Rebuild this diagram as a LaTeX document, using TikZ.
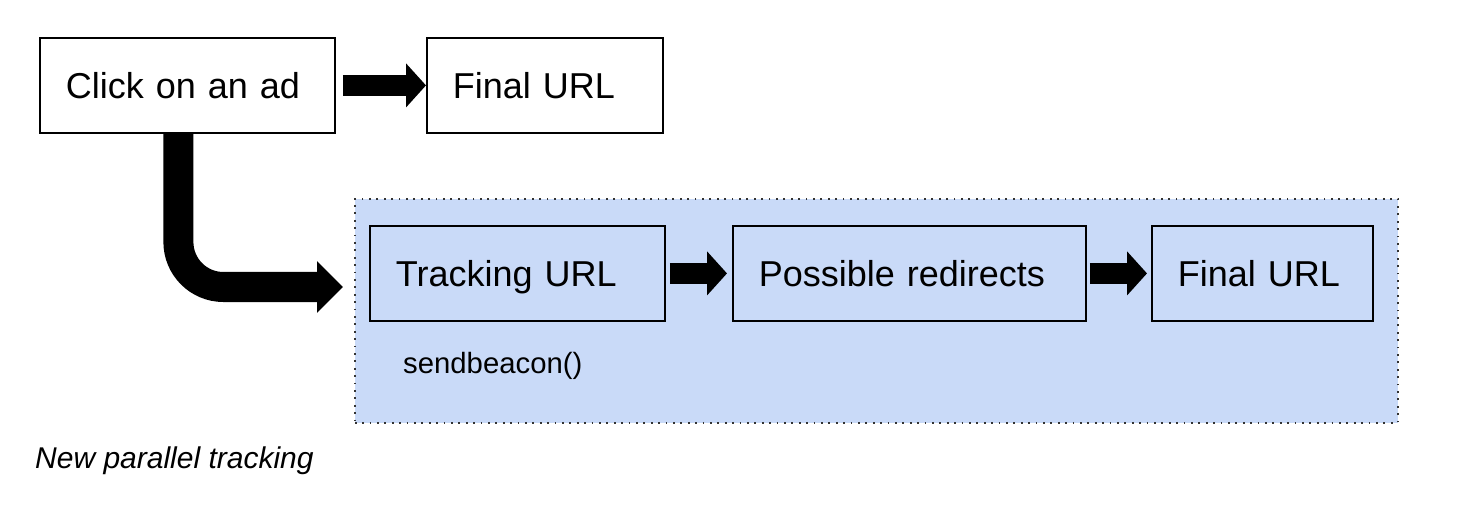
\documentclass[tikz,border=0pt]{standalone}
\usepackage{fontspec}
\setmainfont{Liberation Sans}
\usetikzlibrary{arrows.meta}
\definecolor{panelblue}{HTML}{C9DAF8}
\definecolor{dotgray}{HTML}{333333}
\begin{document}
\begin{tikzpicture}[x=1bp,y=-1bp,
  box/.style={draw=black, line width=1.8bp, rectangle, inner xsep=26bp, inner ysep=0pt,
    align=left, text height=26bp, text depth=0bp, minimum height=95bp,
    font=\fontsize{36bp}{40bp}\selectfont, anchor=north west},
  panel/.style={draw=dotgray, fill=panelblue, line width=1.6bp, dash pattern=on 1.8bp off 5.6bp,
    rectangle, anchor=north west, inner sep=0pt},
  fat/.style={line width=21bp, -{Triangle[length=20bp,width=43bp]}},
  fatbend/.style={line width=30bp, rounded corners=45bp, -{Triangle[length=26bp,width=50bp]}},
  smalltext/.style={font=\fontsize{29.3bp}{33bp}\selectfont, inner sep=0pt, anchor=base west},
  caption/.style={font=\fontsize{30bp}{34bp}\selectfont\itshape, inner sep=0pt, anchor=base west},
]
\useasboundingbox (0,0) rectangle (1464,510);

\node[panel, minimum width=1043bp, minimum height=224bp] (panel) at (354,198) {};

\node[box, text width=243bp] (click) at (39,37) {Click on an ad};
\node[box, text width=184bp] (final1) at (426,37) {Final URL};

\node[box, text width=243bp] (track) at (369,225) {Tracking URL};
\node[box, text width=301bp] (poss) at (732,225) {Possible redirects};
\node[box, text width=169bp] (final2) at (1151,225) {Final URL};

\node[smalltext] (beacon) at (403,373) {sendbeacon()};
\node[caption] (cap) at (35,468) {New parallel tracking};

\coordinate (bendtip) at (343,287);

\draw[fat] ([xshift=7bp]click.east) -- (final1.west);
\draw[fat] ([xshift=4bp]track.east) -- ([xshift=-5bp]poss.west);
\draw[fat] ([xshift=3bp]poss.east) -- ([xshift=-4bp]final2.west);
\draw[fatbend] ([xshift=-9bp]click.south) |- (bendtip);
\end{tikzpicture}
\end{document}
